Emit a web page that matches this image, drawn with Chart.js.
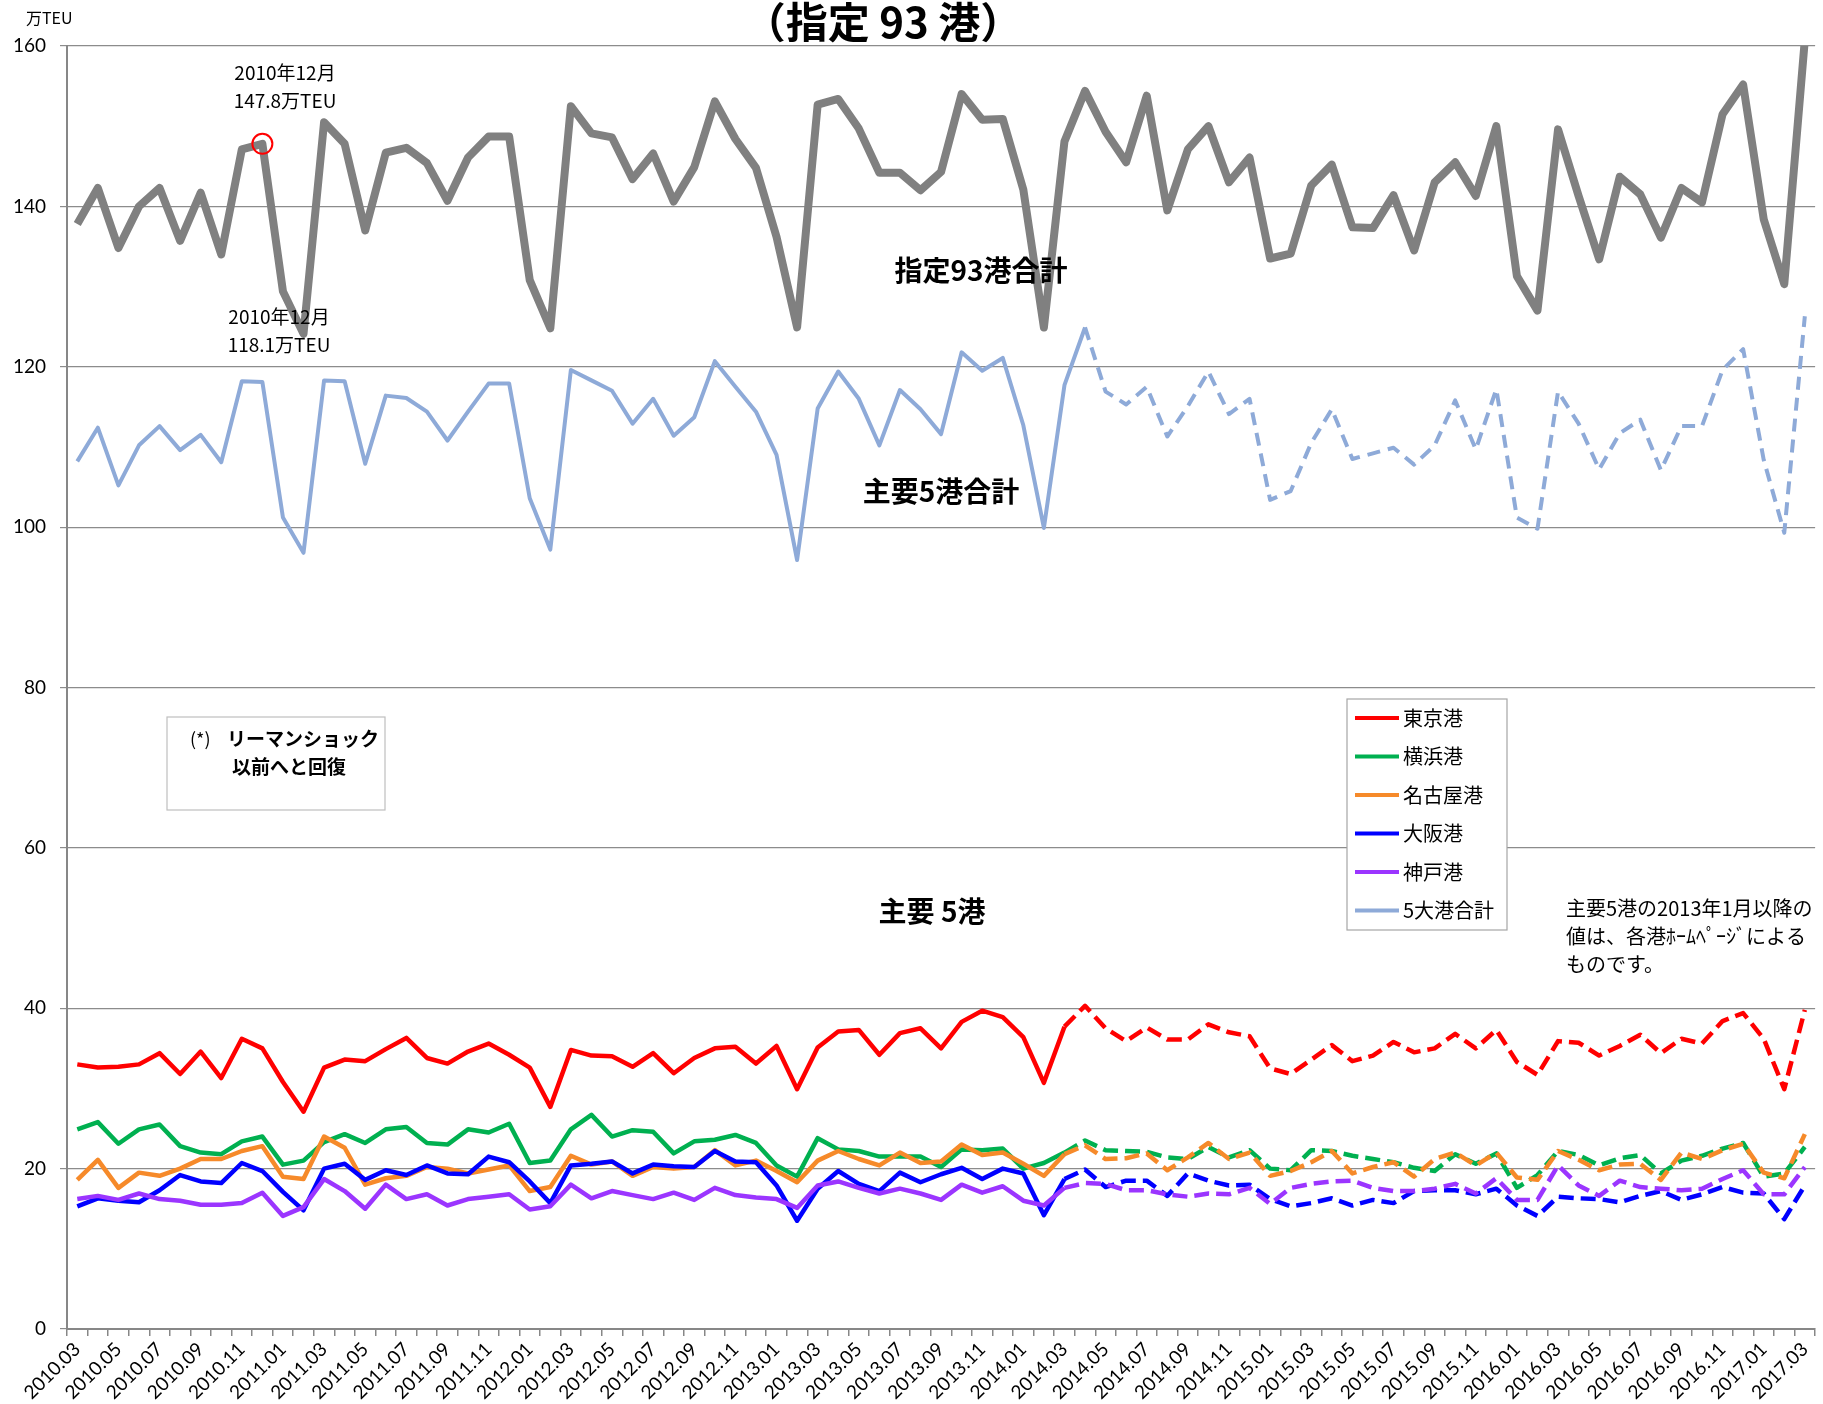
<!DOCTYPE html>
<html lang="ja">
<head>
<meta charset="utf-8">
<title>コンテナ取扱量（指定93港）</title>
<script src="https://cdn.jsdelivr.net/npm/chart.js@4.4.1/dist/chart.umd.min.js"></script>
<style>
  html, body { margin: 0; padding: 0; background: #fff; }
  #wrap { width: 1823px; height: 1404px; }
</style>
</head>
<body>
<div id="wrap"><canvas id="portChart" width="1823" height="1404"></canvas></div>
<script>
'use strict';

// months 2010.03 .. 2017.03 (85 categories)
const months = [];
let yr = 2010;
let mo = 3;
while (!(yr === 2017 && mo === 4)) {
  months.push(yr + '.' + String(mo).padStart(2, '0'));
  mo++;
  if (mo > 12) { mo = 1; yr++; }
}

// values in 万TEU
const total93 = [
  137.8, 142.3, 134.8, 140.0, 142.3, 135.7, 141.7, 134.0, 147.1, 147.8,
  129.4, 124.1, 150.5, 147.8, 137.0, 146.7, 147.3, 145.4, 140.7, 146.1,
  148.7, 148.7, 130.8, 124.8, 152.5, 149.1, 148.6, 143.4, 146.6, 140.6,
  144.9, 153.1, 148.4, 144.8, 136.2, 124.9, 152.7, 153.4, 149.7, 144.2,
  144.2, 142.0, 144.3, 154.0, 150.8, 150.9, 142.1, 124.9, 148.1, 154.4,
  149.3, 145.5, 153.8, 139.5, 147.1, 150.0, 143.0, 146.1, 133.5, 134.1,
  142.6, 145.2, 137.4, 137.3, 141.4, 134.5, 143.0, 145.5, 141.3, 150.0,
  131.3, 127.0, 149.6, 141.3, 133.4, 143.7, 141.5, 136.1, 142.3, 140.5,
  151.5, 155.2, 138.4, 130.3, 160.8
];
const total5 = [
  108.2, 112.4, 105.2, 110.2, 112.6, 109.6, 111.5, 108.1, 118.2, 118.1,
  101.2, 96.8, 118.3, 118.2, 107.9, 116.4, 116.1, 114.4, 110.8, 114.4,
  117.9, 117.9, 103.6, 97.2, 119.6, 118.3, 117.0, 112.9, 116.0, 111.4,
  113.7, 120.7, 117.5, 114.4, 109.0, 95.9, 114.8, 119.4, 116.0, 110.2,
  117.1, 114.7, 111.6, 121.8, 119.5, 121.1, 112.7, 99.9, 117.7, 124.9,
  116.9, 115.3, 117.5, 111.3, 115.1, 119.4, 114.1, 116.0, 103.4, 104.5,
  110.5, 114.7, 108.5, 109.2, 109.9, 107.8, 110.2, 115.8, 109.7, 117.2,
  101.2, 99.8, 116.9, 112.9, 107.2, 111.7, 113.4, 107.1, 112.6, 112.6,
  119.6, 122.2, 108.4, 99.3, 126.3
];
const tokyo = [
  33.0, 32.6, 32.7, 33.0, 34.4, 31.8, 34.6, 31.3, 36.2, 35.0,
  30.8, 27.1, 32.6, 33.6, 33.4, 34.9, 36.3, 33.8, 33.1, 34.6,
  35.6, 34.2, 32.6, 27.7, 34.8, 34.1, 34.0, 32.7, 34.4, 31.9,
  33.8, 35.0, 35.2, 33.1, 35.3, 29.9, 35.1, 37.1, 37.3, 34.2,
  36.9, 37.5, 35.0, 38.3, 39.7, 38.9, 36.4, 30.7, 37.7, 40.3,
  37.5, 35.9, 37.6, 36.1, 36.1, 38.0, 37.0, 36.5, 32.5, 31.8,
  33.6, 35.4, 33.4, 34.1, 35.8, 34.5, 35.0, 36.8, 35.0, 37.3,
  33.3, 31.7, 35.9, 35.7, 34.1, 35.3, 36.7, 34.4, 36.2, 35.6,
  38.4, 39.4, 36.2, 29.9, 39.8
];
const yokohama = [
  24.9, 25.8, 23.1, 24.9, 25.5, 22.8, 22.0, 21.8, 23.4, 24.0,
  20.5, 21.0, 23.3, 24.3, 23.2, 24.9, 25.2, 23.2, 23.0, 24.9,
  24.5, 25.6, 20.7, 21.0, 24.9, 26.7, 24.0, 24.8, 24.6, 21.9,
  23.4, 23.6, 24.2, 23.2, 20.4, 19.0, 23.8, 22.4, 22.2, 21.5,
  21.5, 21.5, 20.2, 22.4, 22.3, 22.5, 20.0, 20.7, 22.0, 23.5,
  22.3, 22.2, 22.1, 21.4, 21.2, 22.7, 21.4, 22.3, 20.0, 19.8,
  22.3, 22.2, 21.6, 21.2, 20.8, 20.1, 19.7, 21.8, 20.6, 21.9,
  17.6, 19.2, 22.2, 21.7, 20.4, 21.3, 21.7, 19.4, 21.0, 21.6,
  22.5, 23.2, 19.0, 19.4, 22.7
];
const nagoya = [
  18.6, 21.1, 17.6, 19.5, 19.1, 20.0, 21.2, 21.2, 22.2, 22.8,
  19.0, 18.7, 24.0, 22.6, 18.0, 18.8, 19.1, 20.2, 20.0, 19.4,
  19.9, 20.4, 17.2, 17.7, 21.6, 20.5, 20.9, 19.1, 20.2, 20.0,
  20.2, 22.3, 20.4, 21.0, 19.7, 18.3, 21.0, 22.2, 21.2, 20.4,
  22.0, 20.7, 20.9, 23.0, 21.7, 22.0, 20.6, 19.1, 21.8, 22.9,
  21.2, 21.3, 21.9, 19.8, 21.4, 23.2, 21.2, 22.0, 19.1, 19.7,
  20.8, 22.2, 19.4, 20.2, 20.8, 19.0, 21.2, 22.0, 20.4, 22.0,
  18.9, 18.6, 22.2, 21.1, 19.8, 20.5, 20.6, 18.6, 22.0, 21.2,
  22.3, 23.1, 19.5, 18.8, 24.3
];
const osaka = [
  15.3, 16.3, 16.0, 15.8, 17.3, 19.2, 18.4, 18.2, 20.7, 19.7,
  17.1, 14.8, 20.0, 20.6, 18.6, 19.8, 19.2, 20.4, 19.4, 19.3,
  21.5, 20.8, 18.4, 15.7, 20.4, 20.6, 20.9, 19.4, 20.5, 20.3,
  20.2, 22.2, 20.9, 20.8, 17.9, 13.5, 17.5, 19.7, 18.1, 17.2,
  19.5, 18.3, 19.3, 20.1, 18.7, 20.0, 19.4, 14.2, 18.7, 19.9,
  17.7, 18.5, 18.5, 16.6, 19.4, 18.5, 17.9, 18.0, 16.2, 15.3,
  15.7, 16.3, 15.4, 16.1, 15.7, 17.2, 17.3, 17.3, 16.8, 17.5,
  15.4, 14.1, 16.5, 16.3, 16.2, 15.8, 16.6, 17.2, 16.1, 16.8,
  17.7, 17.0, 16.9, 13.7, 17.9
];
const kobe = [
  16.2, 16.6, 16.1, 16.9, 16.2, 16.0, 15.5, 15.5, 15.7, 17.0,
  14.1, 15.2, 18.7, 17.2, 15.0, 18.0, 16.2, 16.8, 15.4, 16.2,
  16.5, 16.8, 14.9, 15.3, 18.0, 16.3, 17.2, 16.7, 16.2, 17.0,
  16.1, 17.6, 16.7, 16.4, 16.2, 15.1, 17.9, 18.4, 17.6, 16.9,
  17.5, 16.9, 16.1, 18.0, 17.0, 17.8, 16.0, 15.4, 17.6, 18.2,
  18.1, 17.3, 17.3, 16.8, 16.5, 16.9, 16.8, 17.6, 15.6, 17.6,
  18.1, 18.4, 18.5, 17.6, 17.2, 17.2, 17.5, 18.1, 16.9, 18.8,
  16.1, 16.1, 20.4, 17.9, 16.6, 18.5, 17.7, 17.5, 17.3, 17.5,
  18.7, 19.8, 16.8, 16.8, 20.2
];

const legendNames = ['東京港', '横浜港', '名古屋港', '大阪港', '神戸港', '5大港合計'];
const legendColors = ['#ff0000', '#00b050', '#f68a2a', '#0000ff', '#9b35ff', '#8eaad8'];

const peakIndex = 9; // 2010年12月
const dashFromPorts = 48; // dashed from 2014.03 on
const dashFromTotal5 = 49;

const jpFont = "'Noto Sans CJK JP', sans-serif";

function dashedAfter(start, dash) {
  return {
    borderDash: function (ctx) {
      return ctx.p0DataIndex >= start ? dash : undefined;
    }
  };
}

function lineSet(label, data, color, width, order, segment) {
  return {
    label: label,
    data: data,
    borderColor: color,
    backgroundColor: color,
    borderWidth: width,
    pointRadius: 0,
    pointHoverRadius: 0,
    tension: 0,
    fill: false,
    borderJoinStyle: 'round',
    borderCapStyle: 'butt',
    order: order,
    segment: segment
  };
}

function text(ctx, str, x, y, size, weight, align) {
  ctx.font = weight + ' ' + size + 'px ' + jpFont;
  ctx.textAlign = align || 'left';
  ctx.textBaseline = 'middle';
  ctx.fillStyle = '#000';
  ctx.fillText(str, x, y);
}

// labels, circle, note boxes and legend drawn on top of the lines
const notesPlugin = {
  id: 'notes',
  afterDraw: function (chart) {
    const ctx = chart.ctx;
    const xs = chart.scales.x;
    const ys = chart.scales.y;
    ctx.save();

    // title (top is cut off in the original)
    ctx.font = 'bold 42px ' + jpFont;
    ctx.textAlign = 'center';
    ctx.textBaseline = 'alphabetic';
    ctx.fillStyle = '#000';
    ctx.fillText('（指定 93 港）', 883, 38);

    text(ctx, '万TEU', 26, 18, 16, 'normal');

    // the December 2010 peak
    ctx.beginPath();
    ctx.arc(xs.getPixelForValue(peakIndex), ys.getPixelForValue(total93[peakIndex]), 10, 0, Math.PI * 2);
    ctx.strokeStyle = '#ff0000';
    ctx.lineWidth = 2;
    ctx.stroke();

    text(ctx, '2010年12月', 285, 73, 19, 'normal', 'center');
    text(ctx, total93[peakIndex].toFixed(1) + '万TEU', 285, 101, 19, 'normal', 'center');
    text(ctx, '2010年12月', 279, 317, 19, 'normal', 'center');
    text(ctx, total5[peakIndex].toFixed(1) + '万TEU', 279, 345, 19, 'normal', 'center');

    text(ctx, '指定93港合計', 981, 270, 28, 'bold', 'center');
    text(ctx, '主要5港合計', 941, 491, 28, 'bold', 'center');
    text(ctx, '主要 5港', 932, 911, 28, 'bold', 'center');

    // (*) box
    ctx.fillStyle = '#fff';
    ctx.fillRect(167, 717, 218, 93);
    ctx.strokeStyle = '#bfbfbf';
    ctx.lineWidth = 1.2;
    ctx.strokeRect(167, 717, 218, 93);
    text(ctx, '(*)', 190, 739, 18, 'normal');
    text(ctx, 'リーマンショック', 227, 739, 19, 'bold');
    text(ctx, '以前へと回復', 232, 767, 19, 'bold');

    // legend
    ctx.fillStyle = '#fff';
    ctx.fillRect(1347, 699, 160, 231);
    ctx.strokeStyle = '#a6a6a6';
    ctx.strokeRect(1347, 699, 160, 231);
    for (let i = 0; i < legendNames.length; i++) {
      const ly = 718 + i * 38.5;
      ctx.beginPath();
      ctx.moveTo(1355, ly);
      ctx.lineTo(1399, ly);
      ctx.strokeStyle = legendColors[i];
      ctx.lineWidth = 4;
      ctx.stroke();
      text(ctx, legendNames[i], 1403, ly, 20, 'normal');
    }

    // source note
    text(ctx, '主要5港の2013年1月以降の', 1566, 908, 20, 'normal');
    text(ctx, '値は、各港ﾎｰﾑﾍﾟｰｼﾞによる', 1566, 936, 20, 'normal');
    text(ctx, 'ものです。', 1566, 964, 20, 'normal');

    ctx.restore();
  }
};

function createPortChart() {
  const canvas = document.getElementById('portChart');
  return new Chart(canvas, {
    type: 'line',
    data: {
      labels: months,
      datasets: [
        Object.assign(lineSet('指定93港合計', total93, '#808080', 8, 7), { clip: 0 }),
        lineSet(legendNames[0], tokyo, legendColors[0], 4.5, 6, dashedAfter(dashFromPorts, [15, 7])),
        lineSet(legendNames[1], yokohama, legendColors[1], 4.5, 5, dashedAfter(dashFromPorts, [15, 7])),
        lineSet(legendNames[2], nagoya, legendColors[2], 4.5, 4, dashedAfter(dashFromPorts, [15, 7])),
        lineSet(legendNames[3], osaka, legendColors[3], 4.5, 3, dashedAfter(dashFromPorts, [15, 7])),
        lineSet(legendNames[4], kobe, legendColors[4], 4.5, 2, dashedAfter(dashFromPorts, [15, 7])),
        lineSet(legendNames[5], total5, legendColors[5], 4, 1, dashedAfter(dashFromTotal5, [13, 8]))
      ]
    },
    options: {
      responsive: false,
      animation: false,
      events: [],
      layout: { padding: { top: 46, right: 7, left: 0, bottom: 0 } },
      plugins: {
        legend: { display: false },
        tooltip: { enabled: false },
        title: { display: false }
      },
      scales: {
        x: {
          offset: true,
          grid: {
            offset: true,
            drawOnChartArea: false,
            tickLength: 7,
            color: '#878787',
            lineWidth: 1.5
          },
          border: { color: '#878787', width: 2 },
          ticks: {
            autoSkip: false,
            minRotation: 45,
            maxRotation: 45,
            padding: 2,
            color: '#000',
            font: { family: 'Lato', size: 19 },
            callback: function (value, index) {
              return index % 2 === 0 ? months[index] : '';
            }
          },
          afterFit: function (scale) { scale.height = 75; }
        },
        y: {
          min: 0,
          max: 160,
          ticks: {
            stepSize: 20,
            padding: 14,
            color: '#000',
            font: { family: 'Lato', size: 19 }
          },
          grid: { color: '#8c8c8c', lineWidth: 1.2, tickLength: 7 },
          border: { color: '#878787', width: 2 },
          afterFit: function (scale) { scale.width = 67; }
        }
      }
    },
    plugins: [notesPlugin]
  });
}

createPortChart();
</script>
</body>
</html>
